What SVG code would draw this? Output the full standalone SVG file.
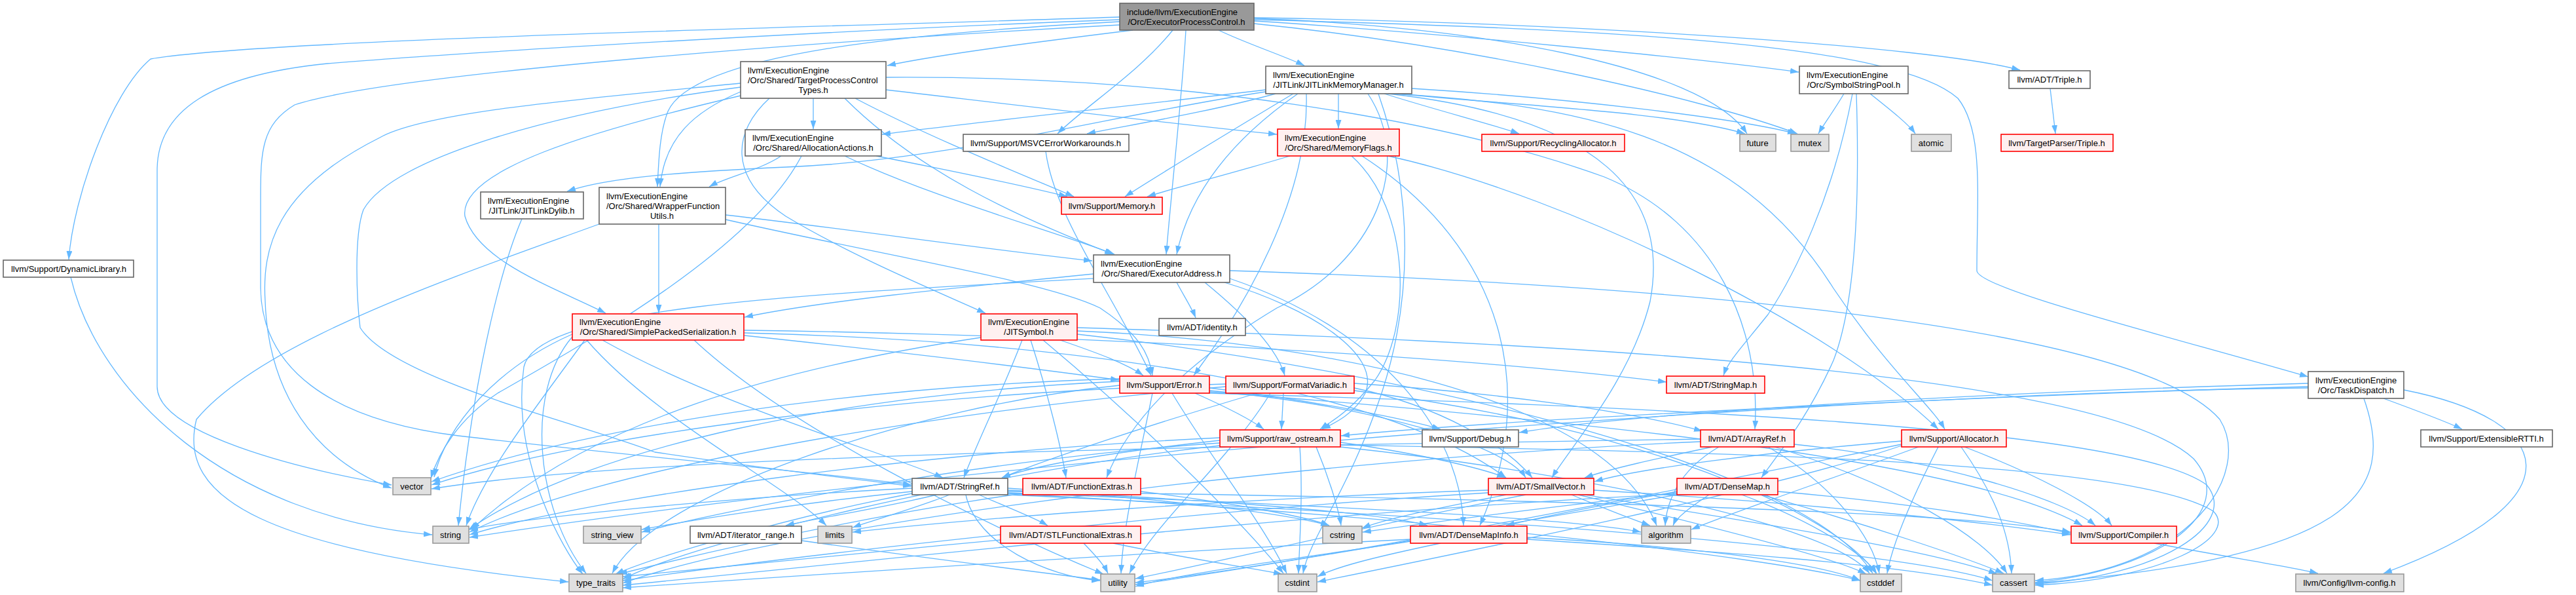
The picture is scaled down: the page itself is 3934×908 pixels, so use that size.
<svg xmlns="http://www.w3.org/2000/svg" width="3934" height="908" viewBox="0 0 3934 908">
<defs>
<marker id="a" viewBox="0 0 13 9" refX="13" refY="4.5" markerWidth="13" markerHeight="9" markerUnits="userSpaceOnUse" orient="auto"><path d="M0,0 L13,4.5 L0,9 z" fill="#63b8ff"/></marker>
<style>
.e path{fill:none;stroke:#63b8ff;stroke-width:1.3;marker-end:url(#a)}
.w rect{fill:#ffffff;stroke:#666666;stroke-width:1.6}
.r rect{fill:#fff0f0;stroke:#ff0000;stroke-width:1.6}
.g rect{fill:#e0e0e0;stroke:#999999;stroke-width:1.6}
.m rect{fill:#999999;stroke:#666666;stroke-width:1.6}
text{font-family:"Liberation Sans",Arial,Helvetica,sans-serif;font-size:13px;fill:#000}
.c{text-anchor:middle}
</style>
</defs>
<rect x="0" y="0" width="3934" height="908" fill="#ffffff"/>
<g id="edges" class="e">
<path d="M1730,46 C1600,62 1440,82 1355,100"/>
<path d="M1791,46 C1740,110 1660,160 1615,204"/>
<path d="M1811,46 C1805,150 1790,280 1781,388"/>
<path d="M1861,46 C1900,65 1960,85 1992,100"/>
<path d="M1915,32 C2200,50 2600,90 2747,110"/>
<path d="M1915,28 C2250,40 2600,100 2668,204"/>
<path d="M1915,36 C2250,70 2600,150 2745,204"/>
<path d="M1915,27 C2400,35 2950,70 3085,107"/>
<path d="M1915,30 C2500,45 2900,70 2990,150 C3030,200 3019,300 3019,413 C3019,440 3300,510 3525,575"/>
<path d="M1710,33 C1400,50 1060,80 1020,170 C1008,200 1006,240 1004,285"/>
<path d="M1710,26 C1300,40 400,60 230,90 C170,140 112,300 105,396"/>
<path d="M1710,30 C1300,45 700,80 500,97 C320,115 240,170 240,260 L240,590 C240,660 450,715 598,740"/>
<path d="M1710,38 C1300,60 600,110 450,160 C400,190 398,230 398,300 L398,440 C400,560 500,640 700,665 C1000,700 1250,720 1392,740"/>
<path d="M1242,150 L1242,197"/>
<path d="M1353,137 C1550,160 1800,190 1950,205"/>
<path d="M1353,118 C1800,115 2200,180 2450,270 C2620,340 2690,500 2680,655"/>
<path d="M1175,150 C1120,200 1110,270 1200,330 C1300,390 1420,440 1505,478"/>
<path d="M1290,150 C1400,260 1550,330 1700,388"/>
<path d="M1306,150 C1420,210 1570,270 1640,300"/>
<path d="M1131,146 C900,200 700,260 710,330 C730,400 850,440 925,478"/>
<path d="M1131,140 C1060,170 1015,210 1008,285"/>
<path d="M1131,127 C900,150 650,170 580,210 C420,290 400,380 405,460 C410,600 480,700 598,745"/>
<path d="M1131,133 C850,170 600,240 555,320 C540,360 545,460 550,500 C600,580 900,650 1000,690 C1200,720 1300,730 1392,742"/>
<path d="M1193,238 C1160,260 1110,270 1083,285"/>
<path d="M1338,238 C1450,260 1570,285 1630,300"/>
<path d="M1290,238 C1420,300 1600,350 1702,388"/>
<path d="M1224,238 C1150,380 900,520 760,600 C700,640 670,690 658,730"/>
<path d="M1933,140 C1700,175 1450,245 1200,255 C1050,262 930,270 866,292"/>
<path d="M1933,137 C1700,165 1500,185 1347,205"/>
<path d="M1982,143 C1900,200 1820,280 1797,388"/>
<path d="M2044,143 L2044,196"/>
<path d="M1975,143 C1880,200 1780,260 1718,300"/>
<path d="M1948,143 C1850,170 1730,190 1660,204"/>
<path d="M2114,143 C2200,170 2280,190 2320,204"/>
<path d="M2135,143 C2300,160 2550,170 2665,204"/>
<path d="M2156,135 C2400,150 2650,180 2743,204"/>
<path d="M2128,143 C2400,160 2650,200 2800,440 C2880,560 2950,620 2970,655"/>
<path d="M2120,143 C2450,180 2550,300 2520,460 C2490,580 2400,680 2370,729"/>
<path d="M2089,143 C2160,250 2100,400 1950,470 C1800,560 1720,650 1690,729"/>
<path d="M1995,143 C2000,300 1900,470 1823,573"/>
<path d="M2105,143 C2160,300 2156,460 2110,600 C2060,750 2000,820 1990,875"/>
<path d="M2816,143 C2800,170 2785,190 2777,204"/>
<path d="M2856,143 C2890,170 2915,190 2925,204"/>
<path d="M2835,143 C2840,300 2835,460 2800,550 C2760,640 2710,700 2690,729"/>
<path d="M2829,143 C2800,300 2740,420 2700,480 C2660,530 2640,550 2632,573"/>
<path d="M3131,135 L3139,204"/>
<path d="M797,334 C760,420 720,600 700,802"/>
<path d="M1006,342 L1006,478"/>
<path d="M1108,328 C1300,350 1500,380 1668,398"/>
<path d="M1108,335 C1350,390 1600,430 1680,470 C1740,510 1755,540 1760,573"/>
<path d="M915,342 C700,420 400,520 300,640 C270,760 400,840 868,888"/>
<path d="M1670,418 C1450,440 1250,460 1137,484"/>
<path d="M1797,431 C1810,455 1820,470 1826,485"/>
<path d="M1840,431 C1900,480 1950,530 1962,573"/>
<path d="M1870,431 C2000,470 2110,540 2085,600 C2070,630 2040,645 2019,655"/>
<path d="M1878,425 C2100,500 2230,650 2235,802"/>
<path d="M1878,413 C2400,430 3250,480 3390,640 C3440,720 3350,870 3108,886"/>
<path d="M1670,425 C1200,450 820,470 800,560 C780,700 860,840 890,876"/>
<path d="M1137,504 C1600,510 2200,540 2545,583"/>
<path d="M1137,512 C1400,540 1600,565 1709,580"/>
<path d="M896,519 C1000,640 1200,740 1262,802"/>
<path d="M920,519 C1100,620 1350,690 1440,729"/>
<path d="M874,510 C760,560 680,650 663,728"/>
<path d="M874,514 C800,600 820,780 895,875"/>
<path d="M893,519 C820,620 740,720 712,802"/>
<path d="M1137,508 C1600,520 2100,580 2300,729"/>
<path d="M1060,519 C1200,650 1500,800 1685,876"/>
<path d="M1561,519 C1530,600 1490,680 1472,729"/>
<path d="M1574,519 C1600,600 1620,680 1628,729"/>
<path d="M1593,519 C1750,650 1900,800 1960,875"/>
<path d="M1619,519 C1680,540 1720,555 1746,573"/>
<path d="M1645,505 C2000,520 2450,600 2530,802"/>
<path d="M1645,510 C2100,560 2750,700 2860,875"/>
<path d="M1645,500 C2300,520 3200,560 3350,700 C3420,780 3300,870 3108,889"/>
<path d="M1498,515 C1200,560 900,640 720,808"/>
<path d="M1597,231 C1610,330 1700,450 1758,573"/>
<path d="M1970,238 C1880,265 1800,285 1752,300"/>
<path d="M2064,238 C2156,320 2156,500 2100,580 C2060,630 2030,645 2016,655"/>
<path d="M2080,238 C2300,380 2350,600 2260,802"/>
<path d="M2120,238 C2400,300 2800,500 2960,655"/>
<path d="M1825,600 C1870,620 1910,640 1930,655"/>
<path d="M1847,592 C2000,610 2150,640 2200,655"/>
<path d="M1847,596 C2100,620 2300,680 2330,729"/>
<path d="M1847,598 C2400,640 3000,700 3180,802"/>
<path d="M1847,600 C2500,620 3250,650 3370,740 C3420,800 3300,880 3108,891"/>
<path d="M1790,600 C1850,700 1930,800 1965,875"/>
<path d="M1710,582 C1300,600 900,680 716,808"/>
<path d="M1710,588 C1400,620 1000,750 935,875"/>
<path d="M1760,600 C1740,700 1715,800 1712,875"/>
<path d="M1710,578 C1300,590 900,650 659,735"/>
<path d="M1960,600 L1957,655"/>
<path d="M2068,585 C2300,600 2500,630 2600,658"/>
<path d="M2068,592 C2200,620 2300,680 2340,729"/>
<path d="M1920,600 C1750,650 1600,700 1530,729"/>
<path d="M2068,596 C2500,650 2800,780 2865,875"/>
<path d="M1872,590 C1400,630 900,720 717,812"/>
<path d="M1940,600 C1880,700 1760,800 1725,875"/>
<path d="M1872,586 C1400,600 900,660 659,740"/>
<path d="M2047,675 C2150,690 2250,710 2300,729"/>
<path d="M1863,672 C1700,690 1580,710 1530,729"/>
<path d="M2047,679 C2600,690 3250,700 3380,780 C3420,820 3300,885 3108,893"/>
<path d="M2047,682 C2400,720 2800,800 2855,875"/>
<path d="M1985,682 C1990,750 1985,820 1983,875"/>
<path d="M2010,682 C2030,730 2045,780 2048,802"/>
<path d="M1863,668 C1400,690 900,760 717,816"/>
<path d="M1863,676 C1500,700 1100,780 980,812"/>
<path d="M1863,680 C1500,720 1050,830 951,884"/>
<path d="M3640,608 C3700,630 3740,645 3760,655"/>
<path d="M3671,595 C3900,640 3950,760 3640,875"/>
<path d="M3610,608 C3660,750 3600,850 3108,890"/>
<path d="M3525,585 C3000,600 2500,630 2320,660"/>
<path d="M3525,590 C3000,605 2300,640 2048,665"/>
<path d="M3525,592 C2800,600 1500,700 717,820"/>
<path d="M2615,682 C2530,700 2460,715 2420,729"/>
<path d="M2625,682 C2560,720 2545,770 2543,802"/>
<path d="M2740,678 C2950,700 3150,760 3200,802"/>
<path d="M2710,682 C2900,740 3030,820 3065,875"/>
<path d="M2700,682 C2800,740 2860,820 2870,875"/>
<path d="M2597,674 C2000,700 1200,800 951,890"/>
<path d="M2597,670 C2000,680 1000,690 659,746"/>
<path d="M2904,673 C2700,690 2500,715 2435,735"/>
<path d="M3000,682 C3100,720 3200,770 3225,802"/>
<path d="M2930,682 C2800,730 2650,780 2583,808"/>
<path d="M2995,682 C3050,760 3070,820 3072,875"/>
<path d="M2960,682 C2920,760 2890,830 2882,875"/>
<path d="M2904,680 C2700,750 2200,850 2012,888"/>
<path d="M2904,678 C2600,740 2000,860 1734,889"/>
<path d="M1430,755 C1350,775 1250,790 1200,802"/>
<path d="M1450,755 C1400,775 1330,795 1302,805"/>
<path d="M1495,755 C1540,775 1580,790 1600,802"/>
<path d="M1475,755 C1490,830 1600,880 1680,886"/>
<path d="M1539,748 C1800,760 2100,780 2180,802"/>
<path d="M1539,745 C1750,760 1950,780 2030,802"/>
<path d="M1539,752 C2000,770 2400,790 2506,812"/>
<path d="M1539,750 C2300,760 3000,780 3162,812"/>
<path d="M1539,755 C2300,790 2900,840 3043,886"/>
<path d="M1539,753 C2200,790 2700,850 2841,886"/>
<path d="M1393,745 C1100,760 800,790 717,808"/>
<path d="M1393,750 C1200,770 1050,795 980,808"/>
<path d="M1393,753 C1200,790 1000,850 940,876"/>
<path d="M1742,750 C1900,770 2000,790 2030,802"/>
<path d="M1562,753 C1300,790 1050,850 945,876"/>
<path d="M2400,755 C2460,780 2500,795 2520,802"/>
<path d="M2300,755 C2200,775 2120,790 2080,806"/>
<path d="M2434,748 C2800,770 3050,800 3162,816"/>
<path d="M2420,755 C2700,800 2950,840 3050,876"/>
<path d="M2410,755 C2600,800 2800,850 2850,876"/>
<path d="M2273,748 C1900,760 1500,790 1302,812"/>
<path d="M2273,752 C1800,780 1200,850 951,886"/>
<path d="M2330,755 C2100,800 1850,860 1734,883"/>
<path d="M2561,750 C2450,770 2350,790 2300,802"/>
<path d="M2610,755 C2580,775 2560,790 2555,802"/>
<path d="M2715,750 C2950,770 3100,800 3162,814"/>
<path d="M2690,755 C2850,800 3000,850 3060,875"/>
<path d="M2660,755 C2780,800 2850,850 2866,875"/>
<path d="M2561,752 C2400,770 2200,795 2081,812"/>
<path d="M2561,754 C2000,780 1300,860 951,893"/>
<path d="M2561,755 C2300,800 1900,870 1734,892"/>
<path d="M2332,823 C2600,840 2900,860 3043,893"/>
<path d="M2332,820 C2600,835 2780,860 2841,886"/>
<path d="M2200,829 C2100,850 2040,865 2012,880"/>
<path d="M2154,823 C1800,840 1200,880 951,897"/>
<path d="M2154,826 C2000,850 1800,875 1734,895"/>
<path d="M1224,825 C1400,850 1600,875 1680,885"/>
<path d="M1655,829 C1670,845 1685,860 1692,875"/>
<path d="M1700,829 C1800,850 1900,865 1958,876"/>
<path d="M1528,824 C1300,845 1050,870 951,880"/>
<path d="M3290,829 C3400,850 3500,865 3540,875"/>
<path d="M108,423 C150,600 350,790 660,816"/>
</g>
<g id="n_main" class="m"><rect x="1710" y="5" width="205" height="41"/><text x="1721" y="23">include/llvm/ExecutionEngine</text><text class="c" x="1812" y="38">/Orc/ExecutorProcessControl.h</text></g>
<g id="n_tpct" class="w"><rect x="1131" y="94" width="222" height="56"/><text x="1142" y="112">llvm/ExecutionEngine</text><text x="1142" y="127">/Orc/Shared/TargetProcessControl</text><text class="c" x="1242" y="142">Types.h</text></g>
<g id="n_jlmm" class="w"><rect x="1933" y="101" width="223" height="42"/><text x="1944" y="119">llvm/ExecutionEngine</text><text class="c" x="2044" y="134">/JITLink/JITLinkMemoryManager.h</text></g>
<g id="n_ssp" class="w"><rect x="2748" y="101" width="166" height="42"/><text x="2759" y="119">llvm/ExecutionEngine</text><text class="c" x="2831" y="134">/Orc/SymbolStringPool.h</text></g>
<g id="n_adttriple" class="w"><rect x="3068" y="108" width="124" height="27"/><text class="c" x="3130" y="126">llvm/ADT/Triple.h</text></g>
<g id="n_aa" class="w"><rect x="1138" y="198" width="208" height="40"/><text x="1149" y="215">llvm/ExecutionEngine</text><text class="c" x="1242" y="230">/Orc/Shared/AllocationActions.h</text></g>
<g id="n_msvc" class="w"><rect x="1471" y="205" width="253" height="26"/><text class="c" x="1597" y="222.5">llvm/Support/MSVCErrorWorkarounds.h</text></g>
<g id="n_mf" class="r"><rect x="1951" y="197" width="186" height="41"/><text x="1962" y="215">llvm/ExecutionEngine</text><text class="c" x="2044" y="230">/Orc/Shared/MemoryFlags.h</text></g>
<g id="n_ra" class="r"><rect x="2263" y="205" width="218" height="26"/><text class="c" x="2372" y="222.5">llvm/Support/RecyclingAllocator.h</text></g>
<g id="n_future" class="g"><rect x="2657" y="205" width="55" height="26"/><text class="c" x="2684" y="222.5">future</text></g>
<g id="n_mutex" class="g"><rect x="2735" y="205" width="58" height="26"/><text class="c" x="2764" y="222.5">mutex</text></g>
<g id="n_atomic" class="g"><rect x="2919" y="205" width="61" height="26"/><text class="c" x="2949" y="222.5">atomic</text></g>
<g id="n_tptriple" class="r"><rect x="3056" y="205" width="171" height="26"/><text class="c" x="3141" y="222.5">llvm/TargetParser/Triple.h</text></g>
<g id="n_jld" class="w"><rect x="734" y="293" width="157" height="41"/><text x="745" y="311">llvm/ExecutionEngine</text><text class="c" x="812" y="326">/JITLink/JITLinkDylib.h</text></g>
<g id="n_wfu" class="w"><rect x="915" y="286" width="193" height="56"/><text x="926" y="304">llvm/ExecutionEngine</text><text x="926" y="319">/Orc/Shared/WrapperFunction</text><text class="c" x="1011" y="334">Utils.h</text></g>
<g id="n_memory" class="r"><rect x="1621" y="301" width="154" height="26"/><text class="c" x="1698" y="318.5">llvm/Support/Memory.h</text></g>
<g id="n_dynlib" class="w"><rect x="5" y="397" width="199" height="26"/><text class="c" x="105" y="414.5">llvm/Support/DynamicLibrary.h</text></g>
<g id="n_ea" class="w"><rect x="1670" y="389" width="208" height="42"/><text x="1681" y="407">llvm/ExecutionEngine</text><text class="c" x="1774" y="422">/Orc/Shared/ExecutorAddress.h</text></g>
<g id="n_sps" class="r"><rect x="874" y="479" width="262" height="40"/><text x="885" y="496">llvm/ExecutionEngine</text><text class="c" x="1005" y="511">/Orc/Shared/SimplePackedSerialization.h</text></g>
<g id="n_jitsym" class="r"><rect x="1498" y="479" width="147" height="40"/><text x="1509" y="496">llvm/ExecutionEngine</text><text class="c" x="1571" y="511">/JITSymbol.h</text></g>
<g id="n_identity" class="w"><rect x="1770" y="486" width="132" height="26"/><text class="c" x="1836" y="503.5">llvm/ADT/identity.h</text></g>
<g id="n_error" class="r"><rect x="1710" y="574" width="137" height="26"/><text class="c" x="1778" y="591.5">llvm/Support/Error.h</text></g>
<g id="n_fv" class="r"><rect x="1872" y="574" width="196" height="26"/><text class="c" x="1970" y="591.5">llvm/Support/FormatVariadic.h</text></g>
<g id="n_stringmap" class="r"><rect x="2545" y="574" width="150" height="26"/><text class="c" x="2620" y="591.5">llvm/ADT/StringMap.h</text></g>
<g id="n_td" class="w"><rect x="3525" y="567" width="146" height="41"/><text x="3536" y="585">llvm/ExecutionEngine</text><text class="c" x="3598" y="600">/Orc/TaskDispatch.h</text></g>
<g id="n_raw" class="r"><rect x="1863" y="656" width="184" height="26"/><text class="c" x="1955" y="673.5">llvm/Support/raw_ostream.h</text></g>
<g id="n_debug" class="w"><rect x="2172" y="656" width="147" height="26"/><text class="c" x="2245" y="673.5">llvm/Support/Debug.h</text></g>
<g id="n_arrayref" class="r"><rect x="2597" y="656" width="143" height="26"/><text class="c" x="2668" y="673.5">llvm/ADT/ArrayRef.h</text></g>
<g id="n_allocator" class="r"><rect x="2904" y="656" width="160" height="26"/><text class="c" x="2984" y="673.5">llvm/Support/Allocator.h</text></g>
<g id="n_extrtti" class="w"><rect x="3697" y="656" width="201" height="26"/><text class="c" x="3797" y="673.5">llvm/Support/ExtensibleRTTI.h</text></g>
<g id="n_vector" class="g"><rect x="600" y="729" width="58" height="26"/><text class="c" x="629" y="746.5">vector</text></g>
<g id="n_stringref" class="w"><rect x="1393" y="730" width="146" height="25"/><text class="c" x="1466" y="747">llvm/ADT/StringRef.h</text></g>
<g id="n_fe" class="r"><rect x="1562" y="730" width="180" height="25"/><text class="c" x="1652" y="747">llvm/ADT/FunctionExtras.h</text></g>
<g id="n_sv" class="r"><rect x="2273" y="730" width="161" height="25"/><text class="c" x="2353" y="747">llvm/ADT/SmallVector.h</text></g>
<g id="n_dm" class="r"><rect x="2561" y="730" width="154" height="25"/><text class="c" x="2638" y="747">llvm/ADT/DenseMap.h</text></g>
<g id="n_string" class="g"><rect x="661" y="803" width="55" height="26"/><text class="c" x="688" y="820.5">string</text></g>
<g id="n_sview" class="g"><rect x="891" y="803" width="88" height="26"/><text class="c" x="935" y="820.5">string_view</text></g>
<g id="n_iter" class="w"><rect x="1054" y="803" width="170" height="26"/><text class="c" x="1139" y="820.5">llvm/ADT/iterator_range.h</text></g>
<g id="n_limits" class="g"><rect x="1249" y="803" width="52" height="26"/><text class="c" x="1275" y="820.5">limits</text></g>
<g id="n_stlfe" class="r"><rect x="1528" y="803" width="214" height="26"/><text class="c" x="1635" y="820.5">llvm/ADT/STLFunctionalExtras.h</text></g>
<g id="n_cstring" class="g"><rect x="2020" y="803" width="60" height="26"/><text class="c" x="2050" y="820.5">cstring</text></g>
<g id="n_dmi" class="r"><rect x="2154" y="803" width="178" height="26"/><text class="c" x="2243" y="820.5">llvm/ADT/DenseMapInfo.h</text></g>
<g id="n_algorithm" class="g"><rect x="2507" y="803" width="75" height="26"/><text class="c" x="2544" y="820.5">algorithm</text></g>
<g id="n_compiler" class="r"><rect x="3163" y="803" width="161" height="26"/><text class="c" x="3243" y="820.5">llvm/Support/Compiler.h</text></g>
<g id="n_tt" class="g"><rect x="869" y="876" width="82" height="27"/><text class="c" x="910" y="894">type_traits</text></g>
<g id="n_utility" class="g"><rect x="1681" y="876" width="52" height="27"/><text class="c" x="1707" y="894">utility</text></g>
<g id="n_cstdint" class="g"><rect x="1952" y="876" width="59" height="27"/><text class="c" x="1981" y="894">cstdint</text></g>
<g id="n_cstddef" class="g"><rect x="2841" y="876" width="63" height="27"/><text class="c" x="2872" y="894">cstddef</text></g>
<g id="n_cassert" class="g"><rect x="3043" y="876" width="64" height="27"/><text class="c" x="3075" y="894">cassert</text></g>
<g id="n_llvmconfig" class="g"><rect x="3506" y="876" width="165" height="27"/><text class="c" x="3588" y="894">llvm/Config/llvm-config.h</text></g>
</svg>
